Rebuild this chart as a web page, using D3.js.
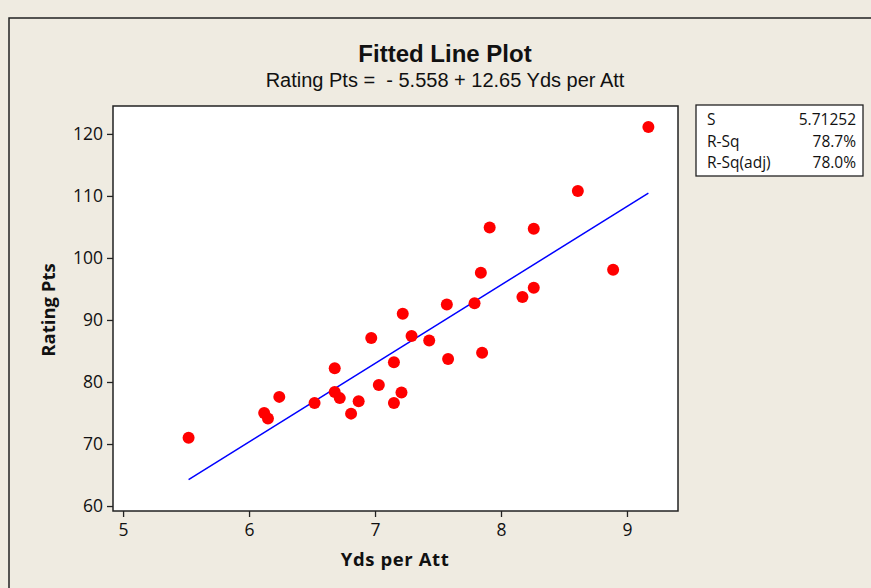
<!DOCTYPE html>
<html>
<head>
<meta charset="utf-8">
<script src="https://cdn.jsdelivr.net/npm/d3@7"></script>
<style>
  html, body { margin: 0; padding: 0; background: #efebe1; }
  svg { display: block; }
  text { fill: #111; }
</style>
</head>
<body>
<script>

// data
var ydsPerAtt = [5.52, 6.12, 6.15, 6.24, 6.52, 6.68, 6.68, 6.72, 6.81, 6.87,
                 6.97, 7.03, 7.15, 7.15, 7.21, 7.22, 7.29, 7.43, 7.57, 7.58,
                 7.79, 7.84, 7.85, 7.91, 8.17, 8.26, 8.26, 8.61, 8.89, 9.17];
var ratingPts = [71.0, 75.0, 74.1, 77.6, 76.6, 82.2, 78.4, 77.4, 74.9, 76.9,
                 87.1, 79.5, 83.2, 76.6, 78.3, 91.0, 87.4, 86.7, 92.5, 83.7,
                 92.7, 97.6, 84.7, 104.9, 93.7, 104.7, 95.2, 110.8, 98.1, 121.1];
var fitCoef = [-5.558, 12.65];   // intercept, slope
var xTicks = [5, 6, 7, 8, 9];
var yTicks = [60, 70, 80, 90, 100, 110, 120];
var statNames = ["S", "R-Sq", "R-Sq(adj)"];
var statValues = ["5.71252", "78.7%", "78.0%"];

var width = 871, height = 588;
var plot = {left: 113, right: 678, top: 106, bottom: 511};
var uiFont = "'Open Sans', sans-serif";

var svg = d3.select("body").append("svg")
    .attr("width", width)
    .attr("height", height);

// outer frame
svg.append("rect")
    .attr("x", 9).attr("y", 18)
    .attr("width", width + 10).attr("height", height + 10)
    .attr("fill", "#efebe1")
    .attr("stroke", "#222")
    .attr("stroke-width", 1.5);

var x = d3.scaleLinear().domain([4.92, 9.405]).range([plot.left, plot.right]);
var y = d3.scaleLinear().domain([59.2, 124.5]).range([plot.bottom, plot.top]);

// plot area
svg.append("rect")
    .attr("x", plot.left).attr("y", plot.top)
    .attr("width", plot.right - plot.left)
    .attr("height", plot.bottom - plot.top)
    .attr("fill", "white")
    .attr("stroke", "#222")
    .attr("stroke-width", 1.5);

// axes
var xAxis = svg.append("g")
    .attr("transform", "translate(0," + plot.bottom + ")")
    .call(d3.axisBottom(x).tickValues(xTicks).tickSize(6).tickPadding(7).tickFormat(d3.format("d")));
var yAxis = svg.append("g")
    .attr("transform", "translate(" + plot.left + ",0)")
    .call(d3.axisLeft(y).tickValues(yTicks).tickSize(6).tickPadding(4).tickFormat(d3.format("d")));

[xAxis, yAxis].forEach(function (a) {
  a.select(".domain").remove();
  a.selectAll(".tick line").attr("stroke", "#222").attr("stroke-width", 1.3);
  a.selectAll(".tick text")
      .style("font-family", uiFont)
      .style("font-size", "17.5px")
      .attr("fill", "#111");
});

// fitted line
var xMin = d3.min(ydsPerAtt), xMax = d3.max(ydsPerAtt);
var linePts = [xMin, xMax].map(function (v) { return [v, fitCoef[0] + fitCoef[1] * v]; });
svg.append("path")
    .datum(linePts)
    .attr("fill", "none")
    .attr("stroke", "#0000ff")
    .attr("stroke-width", 1.5)
    .attr("d", d3.line().x(function (d) { return x(d[0]); }).y(function (d) { return y(d[1]); }));

// points
svg.append("g")
    .selectAll("circle")
    .data(d3.range(ydsPerAtt.length))
    .enter().append("circle")
    .attr("cx", function (i) { return x(ydsPerAtt[i]); })
    .attr("cy", function (i) { return y(ratingPts[i]); })
    .attr("r", 6)
    .attr("fill", "#ff0000");

// titles
svg.append("text")
    .attr("x", 445).attr("y", 62)
    .attr("text-anchor", "middle")
    .style("font-family", "'Liberation Sans', sans-serif")
    .style("font-weight", "bold")
    .style("font-size", "24px")
    .text("Fitted Line Plot");
svg.append("text")
    .attr("x", 445).attr("y", 87)
    .attr("text-anchor", "middle")
    .style("font-family", "'Liberation Sans', sans-serif")
    .style("font-size", "20px")
    .attr("xml:space", "preserve")
    .text("Rating Pts =  - 5.558 + 12.65 Yds per Att");

// axis labels
svg.append("text")
    .attr("x", 395).attr("y", 566)
    .attr("text-anchor", "middle")
    .style("font-family", uiFont)
    .style("font-weight", "bold")
    .style("font-size", "18.5px")
    .style("letter-spacing", "0.6px")
    .text("Yds per Att");
svg.append("text")
    .attr("transform", "translate(55,310) rotate(-90)")
    .attr("text-anchor", "middle")
    .style("font-family", uiFont)
    .style("font-weight", "bold")
    .style("font-size", "18.5px")
    .text("Rating Pts");

// stats box
var box = svg.append("g").attr("transform", "translate(696,105)");
box.append("rect")
    .attr("width", 167).attr("height", 71)
    .attr("fill", "white")
    .attr("stroke", "#222")
    .attr("stroke-width", 1.3);
box.selectAll("text.name")
    .data(statNames)
    .enter().append("text")
    .attr("class", "name")
    .attr("x", 11)
    .attr("y", function (d, i) { return 20 + i * 21.5; })
    .style("font-family", uiFont)
    .style("font-size", "15.5px")
    .text(function (d) { return d; });
box.selectAll("text.val")
    .data(statValues)
    .enter().append("text")
    .attr("class", "val")
    .attr("x", 160)
    .attr("y", function (d, i) { return 20 + i * 21.5; })
    .attr("text-anchor", "end")
    .style("font-family", uiFont)
    .style("font-size", "15.5px")
    .text(function (d) { return d; });

</script>
</body>
</html>
